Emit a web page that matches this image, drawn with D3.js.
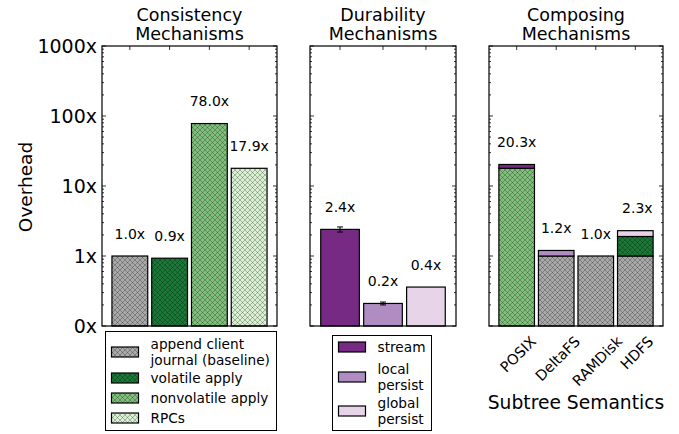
<!DOCTYPE html>
<html>
<head>
<meta charset="utf-8">
<script src="https://cdn.jsdelivr.net/npm/d3@7"></script>
<style>
  body { margin: 0; background: #fff; }
  text { font-family: "DejaVu Sans", sans-serif; fill: #000; }
</style>
</head>
<body>
<svg id="chart" width="679" height="434"></svg>
<script>
// data
const yTickVals = [0.1, 1, 10, 100, 1000]
const yTickLabels = ['0x', '1x', '10x', '100x', '1000x']

const consistencyCats = ['append client journal (baseline)', 'volatile apply', 'nonvolatile apply', 'RPCs']
const consistencyVals = [1.0, 0.93, 78.0, 17.9]

const durabilityCats = ['stream', 'local persist', 'global persist']
const durabilityVals = [2.4, 0.21, 0.36]
const durabilityErr = [0.2, 0.01, 0]

const composeCats = ['POSIX', 'DeltaFS', 'RAMDisk', 'HDFS']
const composeParts = [
  ['nonvolatile apply', 'stream'],
  ['append client journal (baseline)', 'local persist'],
  ['append client journal (baseline)'],
  ['append client journal (baseline)', 'volatile apply', 'global persist']
]
const composeVals = [[17.9, 2.4], [1.0, 0.2], [1.0], [1.0, 0.9, 0.4]]

const colors = {
  'append client journal (baseline)': '#a9a9a9',
  'volatile apply': '#1b7837',
  'nonvolatile apply': '#7fbf7b',
  'RPCs': '#d9f0d3',
  'stream': '#762a83',
  'local persist': '#af8dc3',
  'global persist': '#e7d4e8'
}
const hatched = ['append client journal (baseline)', 'volatile apply', 'nonvolatile apply', 'RPCs']

const svg = d3.select('#chart')
const TOP = 46, BOTTOM = 326

const y = d3.scaleLog().domain([0.1, 1000]).range([BOTTOM, TOP])

// hatch patterns
const defs = svg.append('defs')
Object.keys(colors).forEach((k, i) => {
  const p = defs.append('pattern')
    .attr('id', 'pat' + i)
    .attr('patternUnits', 'userSpaceOnUse')
    .attr('width', 5).attr('height', 5)
  p.append('rect').attr('width', 5).attr('height', 5).attr('fill', colors[k])
  if (hatched.includes(k)) {
    p.append('path')
      .attr('d', 'M0,0L5,5M0,5L5,0M-1,4L1,6M4,-1L6,1M-1,1L1,-1M4,6L6,4')
      .attr('stroke', 'rgba(0,0,0,0.32)')
      .attr('stroke-width', 0.8)
  }
})
const fillOf = k => hatched.includes(k) ? `url(#pat${Object.keys(colors).indexOf(k)})` : colors[k]

const fmt = v => v.toFixed(1) + 'x'

function panel(x0, x1, cats, title) {
  const x = d3.scaleBand().domain(cats).range([x0, x1]).paddingInner(0.1).paddingOuter(0.25)
  const g = svg.append('g')

  // title
  const t = g.append('text').attr('x', (x0 + x1) / 2).attr('text-anchor', 'middle')
    .style('font-size', '17.5px')
  t.append('tspan').attr('x', (x0 + x1) / 2).attr('y', 21).text(title)
  t.append('tspan').attr('x', (x0 + x1) / 2).attr('y', 39.5).text('Mechanisms')

  // ticks: minor on log scale, major at decades, both sides
  const minor = y.ticks().filter(v => !yTickVals.includes(v))
  const tk = g.append('g').attr('stroke', '#000').attr('stroke-width', 0.8)
  minor.forEach(v => {
    tk.append('line').attr('x1', x0).attr('x2', x0 + 2).attr('y1', y(v)).attr('y2', y(v))
    tk.append('line').attr('x1', x1).attr('x2', x1 - 2).attr('y1', y(v)).attr('y2', y(v))
  })
  yTickVals.forEach(v => {
    tk.append('line').attr('x1', x0).attr('x2', x0 + 4).attr('y1', y(v)).attr('y2', y(v))
    tk.append('line').attr('x1', x1).attr('x2', x1 - 4).attr('y1', y(v)).attr('y2', y(v))
  })
  cats.forEach(c => {
    const cx = x(c) + x.bandwidth() / 2
    tk.append('line').attr('x1', cx).attr('x2', cx).attr('y1', TOP).attr('y2', TOP + 4)
    tk.append('line').attr('x1', cx).attr('x2', cx).attr('y1', BOTTOM).attr('y2', BOTTOM - 4)
  })
  return { x, g }
}

function frame(g, x0, x1) {
  g.append('rect').attr('x', x0).attr('y', TOP).attr('width', x1 - x0).attr('height', BOTTOM - TOP)
    .attr('fill', 'none').attr('stroke', '#000').attr('stroke-width', 1.2)
}

function label(g, cx, v, top) {
  g.append('text').attr('x', cx).attr('y', top - 17.5)
    .attr('text-anchor', 'middle').style('font-size', '14px').text(fmt(v))
}

// --- panel 1
const p1 = panel(102, 277, consistencyCats, 'Consistency')
p1.g.selectAll('rect.bar').data(consistencyCats).join('rect')
  .attr('class', 'bar')
  .attr('x', d => p1.x(d)).attr('width', p1.x.bandwidth())
  .attr('y', (d, i) => y(consistencyVals[i]))
  .attr('height', (d, i) => BOTTOM - y(consistencyVals[i]))
  .attr('fill', d => fillOf(d)).attr('stroke', '#000').attr('stroke-width', 1.2)
consistencyCats.forEach((c, i) => label(p1.g, p1.x(c) + p1.x.bandwidth() / 2, consistencyVals[i], y(consistencyVals[i])))
frame(p1.g, 102, 277)

// y axis labels
svg.append('g').selectAll('text').data(yTickVals).join('text')
  .attr('x', 97).attr('y', d => y(d)).attr('dy', '0.36em')
  .attr('text-anchor', 'end').style('font-size', '19px')
  .text((d, i) => yTickLabels[i])
svg.append('text').attr('transform', 'translate(32,187) rotate(-90)')
  .attr('text-anchor', 'middle').style('font-size', '18.5px').text('Overhead')

// --- panel 2
const p2 = panel(310, 456, durabilityCats, 'Durability')
p2.g.selectAll('rect.bar').data(durabilityCats).join('rect')
  .attr('class', 'bar')
  .attr('x', d => p2.x(d)).attr('width', p2.x.bandwidth())
  .attr('y', (d, i) => y(durabilityVals[i]))
  .attr('height', (d, i) => BOTTOM - y(durabilityVals[i]))
  .attr('fill', d => fillOf(d)).attr('stroke', '#000').attr('stroke-width', 1.2)
durabilityCats.forEach((c, i) => {
  const cx = p2.x(c) + p2.x.bandwidth() / 2
  const e = durabilityErr[i]
  if (e > 0) {
    const eg = p2.g.append('g').attr('stroke', '#000').attr('stroke-width', 1)
    const yt = y(durabilityVals[i] + e), yb = y(durabilityVals[i] - e)
    eg.append('line').attr('x1', cx).attr('x2', cx).attr('y1', yt).attr('y2', yb)
    eg.append('line').attr('x1', cx - 3).attr('x2', cx + 3).attr('y1', yt).attr('y2', yt)
    eg.append('line').attr('x1', cx - 3).attr('x2', cx + 3).attr('y1', yb).attr('y2', yb)
  }
  label(p2.g, cx, durabilityVals[i], y(durabilityVals[i]))
})
frame(p2.g, 310, 456)

// --- panel 3
const p3 = panel(489, 663, composeCats, 'Composing')
composeCats.forEach((c, i) => {
  let cum = 0
  composeVals[i].forEach((v, j) => {
    const lo = j === 0 ? y.domain()[0] : cum
    cum += v
    p3.g.append('rect')
      .attr('x', p3.x(c)).attr('width', p3.x.bandwidth())
      .attr('y', y(cum)).attr('height', y(lo) - y(cum))
      .attr('fill', fillOf(composeParts[i][j])).attr('stroke', '#000').attr('stroke-width', 1.2)
  })
  const cx = p3.x(c) + p3.x.bandwidth() / 2
  label(p3.g, cx + (i === 3 ? 2 : 0), cum, y(cum))
  // rotated category label
  const t = p3.g.append('text').style('font-size', '14.5px').attr('text-anchor', 'middle')
    .attr('dominant-baseline', 'central').text(c)
  const L = t.node().getComputedTextLength()
  const cy = 335 + (L + 11) / (2 * Math.SQRT2)
  t.attr('transform', `translate(${cx + 1.5},${cy}) rotate(-45)`)
})
frame(p3.g, 489, 663)
svg.append('text').attr('x', 576).attr('y', 409).attr('text-anchor', 'middle')
  .style('font-size', '18.7px').text('Subtree Semantics')

// --- legends
function legend(x0, y0, w, h, rows) {
  const g = svg.append('g')
  g.append('rect').attr('x', x0).attr('y', y0).attr('width', w).attr('height', h)
    .attr('fill', '#fff').attr('stroke', '#000').attr('stroke-width', 1)
  rows.forEach(r => {
    g.append('rect').attr('x', x0 + 6).attr('y', r.cy - 5).attr('width', 27).attr('height', 10)
      .attr('fill', fillOf(r.key)).attr('stroke', '#000').attr('stroke-width', 1.2)
    const t = g.append('text').attr('x', x0 + 45).style('font-size', '13.7px')
    r.lines.forEach((ln, k) => {
      t.append('tspan').attr('x', x0 + 45)
        .attr('y', r.cy + 5 + (k - (r.lines.length - 1) / 2) * 16.5).text(ln)
    })
  })
}
legend(105.5, 331.5, 171, 99, [
  { key: consistencyCats[0], cy: 352, lines: ['append client', 'journal (baseline)'] },
  { key: consistencyCats[1], cy: 378, lines: [consistencyCats[1]] },
  { key: consistencyCats[2], cy: 398, lines: [consistencyCats[2]] },
  { key: consistencyCats[3], cy: 418, lines: [consistencyCats[3]] }
])
legend(332.5, 335.5, 99, 95, [
  { key: durabilityCats[0], cy: 347, lines: [durabilityCats[0]] },
  { key: durabilityCats[1], cy: 377, lines: durabilityCats[1].split(' ') },
  { key: durabilityCats[2], cy: 411, lines: durabilityCats[2].split(' ') }
])
</script>
</body>
</html>
